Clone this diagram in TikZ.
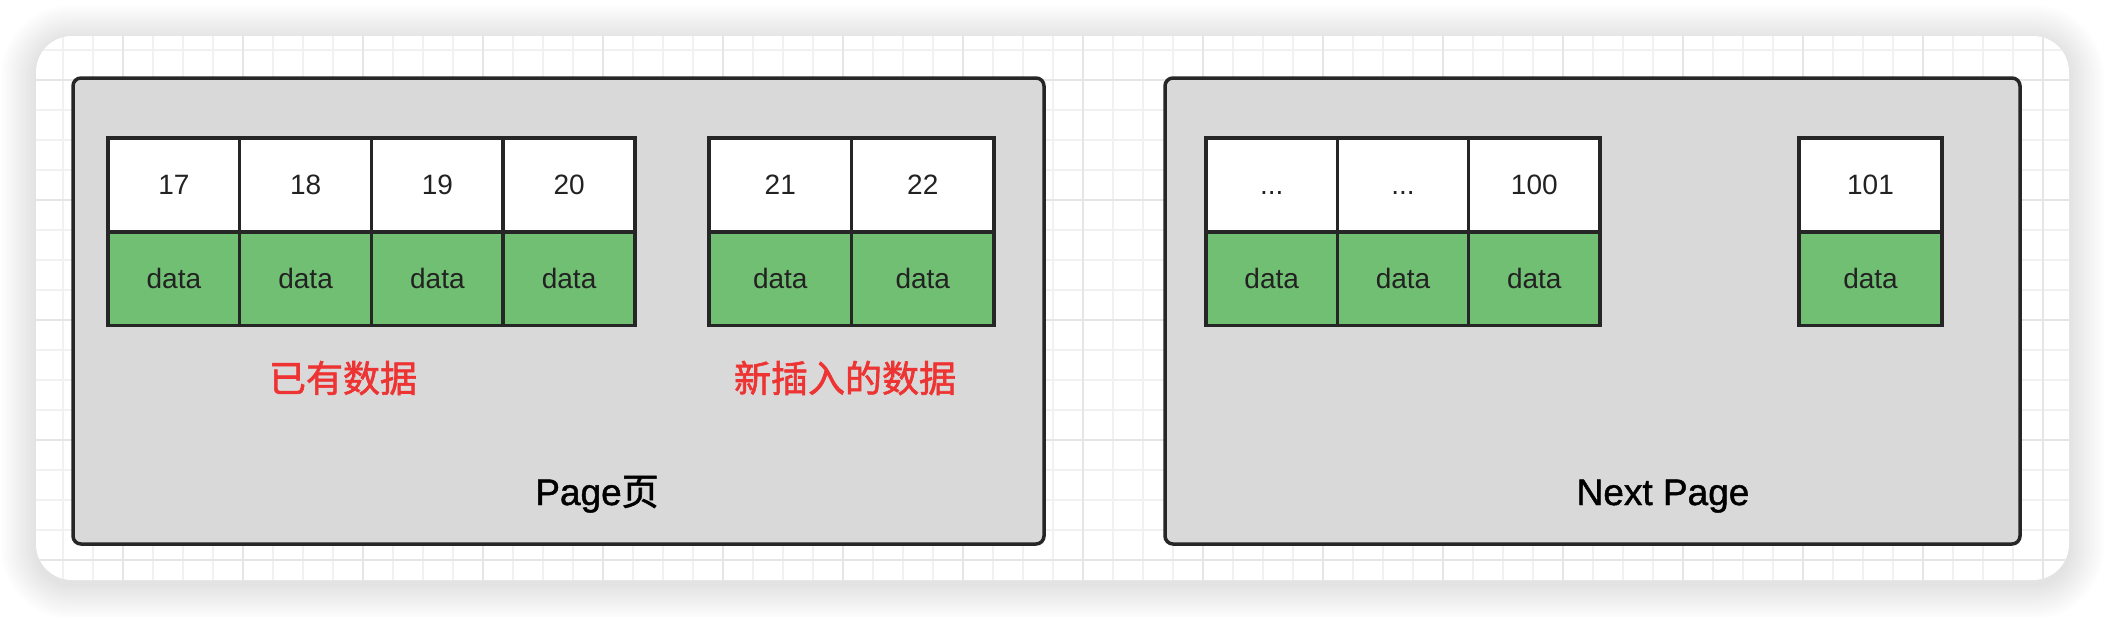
\documentclass[tikz,border=0pt]{standalone}
\usepackage{fontspec}
\setmainfont{Liberation Sans}
\newfontfamily\medfont[FakeBold=1.2]{Liberation Sans}
\newfontfamily\cjk{Noto Sans CJK SC}
\newfontfamily\cjkmed[FakeBold=1.6]{Noto Sans CJK SC}
\definecolor{pagegray}{HTML}{D9D9D9}
\definecolor{cellgreen}{HTML}{70BF73}
\definecolor{edgecol}{HTML}{262626}
\definecolor{textdark}{HTML}{222222}
\definecolor{labred}{HTML}{EE3333}
\definecolor{gridminor}{HTML}{F1F1F1}
\definecolor{gridmajor}{HTML}{E5E5E5}
\begin{document}
\begin{tikzpicture}[x=1pt,y=-1pt,
  pagebox/.style={draw=edgecol, fill=pagegray, line width=3.5pt, rounded corners=8pt,
    inner sep=0pt, outer sep=0pt, minimum height=466pt},
  cellbase/.style={draw=edgecol, line width=3.5pt, inner sep=0pt, outer sep=0pt,
    minimum height=93.5pt, text=textdark, text height=20pt, text depth=0pt,
    font=\fontsize{28}{30}\selectfont},
  keycell/.style={cellbase, fill=white, minimum width=#1},
  datacell/.style={cellbase, fill=cellgreen, minimum width=#1},
  redlabel/.style={text=labred, inner sep=0pt, font=\cjkmed\fontsize{37}{40}\selectfont},
  pagelabel/.style={text=black, inner sep=0pt, anchor=base, font=\medfont\fontsize{37}{40}\selectfont},
  gridline/.style={line width=2pt}
]
\useasboundingbox (0,0) rectangle (2106,616);
% shadow
\foreach \i in {1,...,14}{
  \pgfmathsetmacro{\d}{\i*2.5}
  \pgfmathsetmacro{\r}{36+\i*2.5}
  \fill[black, opacity=0.0065, rounded corners=\r pt] (36-\d,36-\d+4) rectangle (2069+\d,580+\d+4);
}
% card
\fill[white, rounded corners=36pt] (36,36) rectangle (2069,580);
\begin{scope}
  \clip[rounded corners=36pt] (36,36) rectangle (2069,580);
  \foreach \x in {63,93,...,2043} \draw[gridline, gridminor] (\x,36) -- (\x,580);
  \foreach \y in {50,80,...,560} \draw[gridline, gridminor] (36,\y) -- (2069,\y);
  \foreach \x in {123,243,...,2043} \draw[gridline, gridmajor] (\x,36) -- (\x,580);
  \foreach \y in {80,200,...,560} \draw[gridline, gridmajor] (36,\y) -- (2069,\y);
\end{scope}
% pages
\node[pagebox, minimum width=971pt] (page1) at (558.5,311) {};
\node[pagebox, minimum width=855pt] (page2) at (1592.5,311) {};
% left group (existing data)
\node[keycell=131.75pt] (k17) at (173.9,184.75) {17};
\node[keycell=131.75pt] (k18) at (305.6,184.75) {18};
\node[keycell=131.75pt] (k19) at (437.4,184.75) {19};
\node[keycell=131.75pt] (k20) at (569.1,184.75) {20};
\node[datacell=131.75pt] (d17) at (173.9,278.5) {data};
\node[datacell=131.75pt] (d18) at (305.6,278.5) {data};
\node[datacell=131.75pt] (d19) at (437.4,278.5) {data};
\node[datacell=131.75pt] (d20) at (569.1,278.5) {data};
% middle group (new data)
\node[keycell=142.5pt] (k21) at (780.25,184.75) {21};
\node[keycell=142.5pt] (k22) at (922.75,184.75) {22};
\node[datacell=142.5pt] (d21) at (780.25,278.5) {data};
\node[datacell=142.5pt] (d22) at (922.75,278.5) {data};
% next page group
\node[keycell=131.3pt] (ka) at (1271.7,184.75) {...};
\node[keycell=131.3pt] (kb) at (1403,184.75) {...};
\node[keycell=131.3pt] (k100) at (1534.3,184.75) {100};
\node[datacell=131.3pt] (da) at (1271.7,278.5) {data};
\node[datacell=131.3pt] (db) at (1403,278.5) {data};
\node[datacell=131.3pt] (d100) at (1534.3,278.5) {data};
\node[keycell=143pt] (k101) at (1870.5,184.75) {101};
\node[datacell=143pt] (d101) at (1870.5,278.5) {data};
% labels
\node[redlabel] (lold) at (343,378) {已有数据};
\node[redlabel] (lnew) at (845,378) {新插入的数据};
\node[pagelabel] (lpage) at (597,505) {Page{\cjkmed 页}};
\node[pagelabel] (lnext) at (1663,505) {Next Page};
\end{tikzpicture}
\end{document}
